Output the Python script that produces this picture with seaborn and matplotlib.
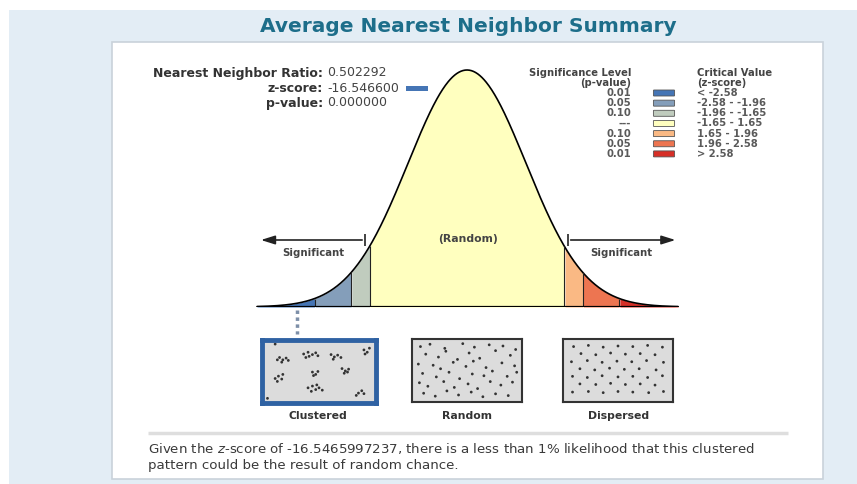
import matplotlib
matplotlib.use("Agg")
import matplotlib.pyplot as plt
from matplotlib.patches import Rectangle, FancyBboxPatch
import seaborn as sns
import numpy as np
import pandas as pd

# ---- summary values ----
nn_ratio = 0.502292
z_score = -16.546600
p_value = 0.000000
z_full = "-16.5465997237"

# ---- significance classes ----
p_levels = ["0.01", "0.05", "0.10", "---", "0.10", "0.05", "0.01"]
z_ranges = ["< -2.58", "-2.58 - -1.96", "-1.96 - -1.65", "-1.65 - 1.65",
            "1.65 - 1.96", "1.96 - 2.58", "> 2.58"]
z_breaks = [-3.56, -2.58, -1.96, -1.65, 1.65, 1.96, 2.58, 3.58]
class_colors = ["#4575b5", "#849eba", "#c0ccbe", "#ffffbf", "#fab984", "#ed7551", "#d62f27"]

# ---- illustration point patterns (box units 0..1) ----
clustered_x = [0.14, 0.17, 0.20, 0.16, 0.22, 0.12,
               0.36, 0.40, 0.44, 0.47, 0.41, 0.38, 0.49,
               0.61, 0.64, 0.67, 0.70, 0.63,
               0.91, 0.94, 0.92, 0.96,
               0.10, 0.13, 0.17, 0.12, 0.16,
               0.44, 0.47, 0.49, 0.45,
               0.71, 0.74, 0.77, 0.73, 0.76,
               0.40, 0.44, 0.47, 0.50, 0.43, 0.53, 0.48,
               0.86, 0.89, 0.91, 0.84,
               0.03, 0.10]
clustered_y = [0.74, 0.70, 0.73, 0.66, 0.69, 0.70,
               0.80, 0.83, 0.79, 0.82, 0.76, 0.74, 0.77,
               0.79, 0.75, 0.78, 0.74, 0.71,
               0.87, 0.83, 0.80, 0.90,
               0.38, 0.42, 0.45, 0.33, 0.37,
               0.49, 0.45, 0.50, 0.43,
               0.55, 0.51, 0.54, 0.47, 0.49,
               0.22, 0.25, 0.19, 0.22, 0.16, 0.18, 0.27,
               0.13, 0.17, 0.12, 0.09,
               0.04, 0.97]

random_x = [0.06, 0.15, 0.29, 0.46, 0.57, 0.71, 0.84, 0.96,
            0.11, 0.23, 0.30, 0.41, 0.52, 0.62, 0.77, 0.91,
            0.04, 0.18, 0.25, 0.37, 0.49, 0.56, 0.68, 0.83, 0.95,
            0.08, 0.21, 0.33, 0.43, 0.55, 0.66, 0.74, 0.88, 0.97,
            0.05, 0.13, 0.28, 0.38, 0.51, 0.60, 0.72, 0.82, 0.93,
            0.09, 0.20, 0.31, 0.42, 0.54, 0.65, 0.77, 0.89]
random_y = [0.91, 0.95, 0.88, 0.96, 0.90, 0.94, 0.92, 0.86,
            0.78, 0.73, 0.83, 0.69, 0.80, 0.71, 0.84, 0.76,
            0.61, 0.59, 0.53, 0.64, 0.57, 0.66, 0.55, 0.63, 0.58,
            0.45, 0.39, 0.47, 0.36, 0.44, 0.41, 0.49, 0.40, 0.47,
            0.29, 0.23, 0.31, 0.21, 0.27, 0.19, 0.31, 0.25, 0.30,
            0.11, 0.06, 0.15, 0.08, 0.13, 0.05, 0.10, 0.07]

dispersed_x = [0.08, 0.22, 0.36, 0.50, 0.64, 0.78, 0.92,
               0.15, 0.29, 0.43, 0.57, 0.71, 0.85,
               0.06, 0.21, 0.35, 0.49, 0.63, 0.77, 0.93,
               0.14, 0.28, 0.42, 0.56, 0.70, 0.86,
               0.07, 0.21, 0.35, 0.50, 0.64, 0.78, 0.92,
               0.14, 0.29, 0.43, 0.57, 0.71, 0.85,
               0.07, 0.22, 0.36, 0.50, 0.64, 0.79, 0.93]
dispersed_y = [0.91, 0.93, 0.90, 0.92, 0.91, 0.93, 0.90,
               0.79, 0.77, 0.80, 0.78, 0.79, 0.77,
               0.65, 0.67, 0.64, 0.66, 0.65, 0.67, 0.64,
               0.53, 0.51, 0.54, 0.52, 0.53, 0.51,
               0.40, 0.38, 0.41, 0.39, 0.40, 0.38, 0.41,
               0.27, 0.26, 0.28, 0.26, 0.27, 0.25,
               0.13, 0.14, 0.12, 0.14, 0.13, 0.12, 0.14]

W, H = 857, 484
sns.set_theme(style="white")
plt.rcParams['font.family'] = ['DejaVu Sans']

fig = plt.figure(figsize=(W / 100, H / 100), dpi=100)
fig.patch.set_facecolor("white")

def px_axes(x0, y0, x1, y1, z=1):
    a = fig.add_axes([x0 / W, 1 - y1 / H, (x1 - x0) / W, (y1 - y0) / H])
    a.set_zorder(z)
    return a

# ---- background / panel / texts in a pixel-space overlay ----
ax0 = px_axes(0, 0, W, H, z=0)
ax0.set_xlim(0, W)
ax0.set_ylim(H, 0)
ax0.axis("off")
ax0.add_patch(Rectangle((9, 10), W - 9, H - 10, fc="#e3edf5", ec="none"))
ax0.add_patch(Rectangle((112, 42), 711, 437, fc="white", ec="#c9d2da", lw=1.2))
ax0.text(468, 27, "Average Nearest Neighbor Summary", ha="center", va="center",
         fontsize=14.5, fontweight="bold", color="#1d6e8a")

txt = "#333333"
stat_labels = ["Nearest Neighbor Ratio:", "z-score:", "p-value:"]
stat_values = [f"{nn_ratio:.6f}", f"{z_score:.6f}", f"{p_value:.6f}"]
for i, (lab, val) in enumerate(zip(stat_labels, stat_values)):
    y = 73 + 15 * i
    ax0.text(323, y, lab, ha="right", va="center", fontsize=9, fontweight="bold", color=txt)
    ax0.text(327, y, val, ha="left", va="center", fontsize=9, color="#444444")
z_class = int(np.digitize(z_score, z_breaks[1:-1]))
ax0.add_patch(Rectangle((406, 86), 22, 4.5, fc=class_colors[z_class], ec="none"))

# legend table
lg = "#444444"
fs_lg = 7.2
ax0.text(631, 73, "Significance Level", ha="right", va="center", fontsize=fs_lg, fontweight="bold", color=lg)
ax0.text(631, 83, "(p-value)", ha="right", va="center", fontsize=fs_lg, fontweight="bold", color=lg)
ax0.text(697, 73, "Critical Value", ha="left", va="center", fontsize=fs_lg, fontweight="bold", color=lg)
ax0.text(697, 83, "(z-score)", ha="left", va="center", fontsize=fs_lg, fontweight="bold", color=lg)
for i, (p, zr, c) in enumerate(zip(p_levels, z_ranges, class_colors)):
    y = 93 + 10.15 * i
    ax0.text(631, y, p, ha="right", va="center", fontsize=fs_lg, fontweight="bold", color="#5a5a5a")
    ax0.text(697, y, zr, ha="left", va="center", fontsize=fs_lg, fontweight="bold", color="#5a5a5a")
    ax0.add_patch(FancyBboxPatch((654, y - 2.4), 20, 4.8, boxstyle="round,pad=0.6",
                                 fc=c, ec="#555555", lw=0.6))

# box captions
for xc, lab in zip([318, 467, 619], ["Clustered", "Random", "Dispersed"]):
    ax0.text(xc, 416, lab, ha="center", va="center", fontsize=7.8, fontweight="bold", color="#333333")

ax0.hlines(433, 148, 788, color="#dedede", lw=2.5)
ax0.text(148, 449, f"Given the $z$-score of {z_full}, there is a less than 1% likelihood that this clustered",
         ha="left", va="center", fontsize=9.6, color="#3a3a3a")
ax0.text(148, 465, "pattern could be the result of random chance.",
         ha="left", va="center", fontsize=9.6, color="#3a3a3a")

# ---- bell curve ----
x_per_z = 59.0
peak = 1 / np.sqrt(2 * np.pi)
y_scale = 237.0 / peak
zlo, zhi = -3.6, 3.6
ylo, yhi = 0.0, 0.42
ax = px_axes(467 + zlo * x_per_z, 307 - yhi * y_scale, 467 + zhi * x_per_z, 307, z=2)
ax.patch.set_alpha(0)
ax.set_xlim(zlo, zhi)
ax.set_ylim(ylo, yhi)
ax.axis("off")

zs = np.linspace(z_breaks[0], z_breaks[-1], 600)
curve = pd.DataFrame({"z": zs, "pdf": np.exp(-zs ** 2 / 2) * peak})
for i, c in enumerate(class_colors):
    m = (curve.z >= z_breaks[i]) & (curve.z <= z_breaks[i + 1])
    ax.fill_between(curve.z[m], 0, curve.pdf[m], color=c, lw=0)
sns.lineplot(data=curve, x="z", y="pdf", color="black", lw=1.2, ax=ax)
inner = np.array(z_breaks[1:-1])
ax.vlines(inner, 0, np.exp(-inner ** 2 / 2) * peak, color="#222222", lw=0.8)
ax.hlines(0, z_breaks[0], z_breaks[-1], color="black", lw=1.6)

# arrows + labels
ya = 67 / y_scale
ax.annotate("", xy=(-3.54, ya), xytext=(-1.73, ya),
            arrowprops=dict(arrowstyle="-|>,head_length=0.7,head_width=0.22", color="#222222", lw=1.2))
ax.annotate("", xy=(3.58, ya), xytext=(1.71, ya),
            arrowprops=dict(arrowstyle="-|>,head_length=0.7,head_width=0.22", color="#222222", lw=1.2))
ax.vlines([-1.73, 1.71], ya - 6 / y_scale, ya + 6 / y_scale, color="#222222", lw=1.2)
ax.text(-2.61, 54 / y_scale, "Significant", ha="center", va="center", fontsize=7.3,
        fontweight="bold", color="#444444")
ax.text(2.61, 54 / y_scale, "Significant", ha="center", va="center", fontsize=7.3,
        fontweight="bold", color="#444444")
ax.text(0.02, 68 / y_scale, "(Random)", ha="center", va="center", fontsize=7.8,
        fontweight="bold", color="#444444")
ax.plot([-2.88, -2.88], [-3 / y_scale, -27 / y_scale], color="#7d8fa8", lw=2.5,
        ls=(0, (1, 1)), clip_on=False)

# ---- point pattern boxes ----
def pattern_box(x0, y0, x1, y1, xs, ys, edge, lw):
    b = px_axes(x0, y0, x1, y1, z=2)
    b.set_facecolor("#dcdcdc")
    b.set_xlim(-0.02, 1.02)
    b.set_ylim(-0.04, 1.04)
    b.set_xticks([])
    b.set_yticks([])
    for s in b.spines.values():
        s.set_visible(True)
        s.set_color(edge)
        s.set_linewidth(lw)
    sns.scatterplot(x=xs, y=ys, s=4, color="#333333", edgecolor="none", ax=b)
    return b

pattern_box(262, 340, 376, 403, clustered_x, clustered_y, "#2f62a3", 3.5)
pattern_box(412, 339, 522, 402, random_x, random_y, "#333333", 1.5)
pattern_box(563, 339, 673, 402, dispersed_x, dispersed_y, "#333333", 1.5)

fig.savefig("out.png", dpi=100)
